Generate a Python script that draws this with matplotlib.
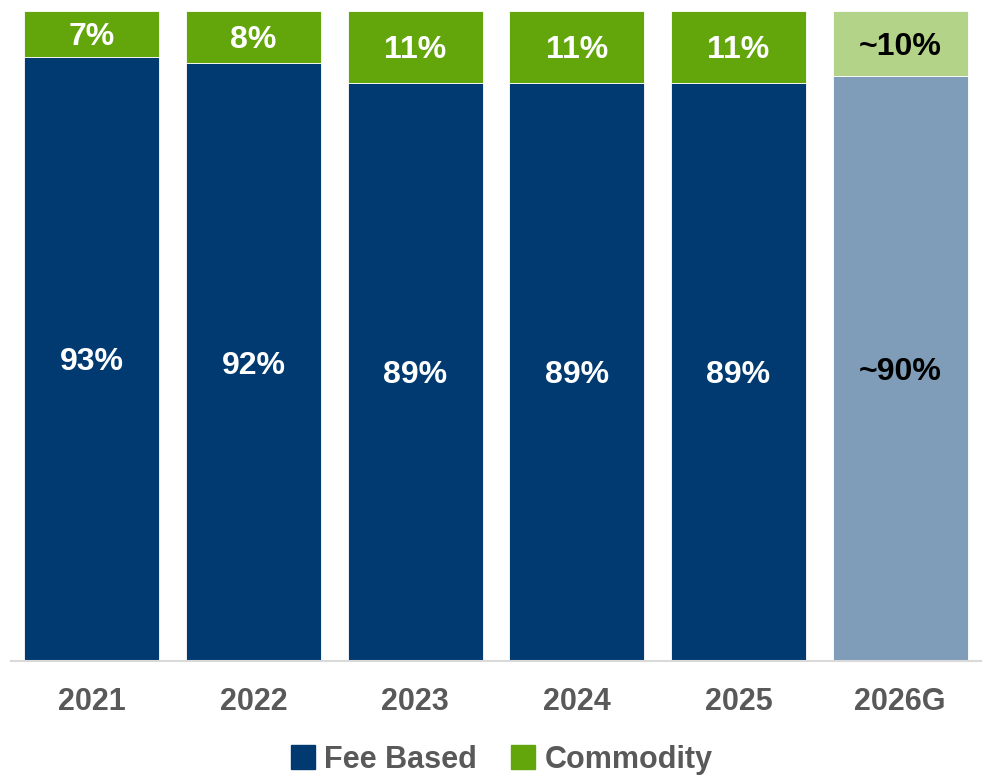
import matplotlib.pyplot as plt
import numpy as np

years = ["2021", "2022", "2023", "2024", "2025", "2026G"]
fee_based = [93, 92, 89, 89, 89, 90]
commodity = [7, 8, 11, 11, 11, 10]
fee_labels = ["93%", "92%", "89%", "89%", "89%", "~90%"]
com_labels = ["7%", "8%", "11%", "11%", "11%", "~10%"]

fee_colors = ["#003A70"] * 5 + ["#7F9DB8"]
com_colors = ["#62A60B"] * 5 + ["#B3D488"]
label_colors = ["white"] * 5 + ["black"]

plt.rcParams['font.family'] = ['Liberation Sans', 'DejaVu Sans']
plt.rcParams['font.weight'] = 'bold'

fig = plt.figure(figsize=(9.87, 7.8), dpi=100)
ax = fig.add_axes([11 / 987, 119 / 780, 970 / 987, 650 / 780])

x = np.arange(len(years))
w = 0.835
ax.bar(x, fee_based, w, color=fee_colors, edgecolor="white", linewidth=0.6, label="Fee Based")
ax.bar(x, commodity, w, bottom=fee_based, color=com_colors, edgecolor="white",
       linewidth=0.6, label="Commodity")

for i in range(len(years)):
    ax.text(x[i], fee_based[i] / 2, fee_labels[i], ha="center", va="center_baseline",
            fontsize=23, fontweight="bold", color=label_colors[i])
    ax.text(x[i], fee_based[i] + commodity[i] / 2, com_labels[i], ha="center",
            va="center_baseline", fontsize=23, fontweight="bold", color=label_colors[i])

ax.set_xlim(-0.5, len(years) - 0.5)
ax.set_ylim(0, 100)
ax.set_xticks(x)
ax.set_xticklabels(years, fontsize=22, fontweight="bold", color="#595959")
ax.tick_params(axis="x", length=0, pad=19)
ax.set_yticks([])
for s in ["top", "left", "right"]:
    ax.spines[s].set_visible(False)
ax.spines["bottom"].set_color("#D9D9D9")
ax.spines["bottom"].set_linewidth(1.5)

handles = [plt.Rectangle((0, 0), 1, 1, color="#003A70"),
           plt.Rectangle((0, 0), 1, 1, color="#62A60B")]
leg = fig.legend(handles, ["Fee Based", "Commodity"], loc="center", bbox_to_anchor=(0.508, 0.026),
                 ncol=2, frameon=False, fontsize=22, handlelength=0.8, handleheight=0.8,
                 handletextpad=0.3, columnspacing=1.1)
for t in leg.get_texts():
    t.set_color("#595959")
    t.set_fontweight("bold")

fig.savefig("out.png", dpi=100)
